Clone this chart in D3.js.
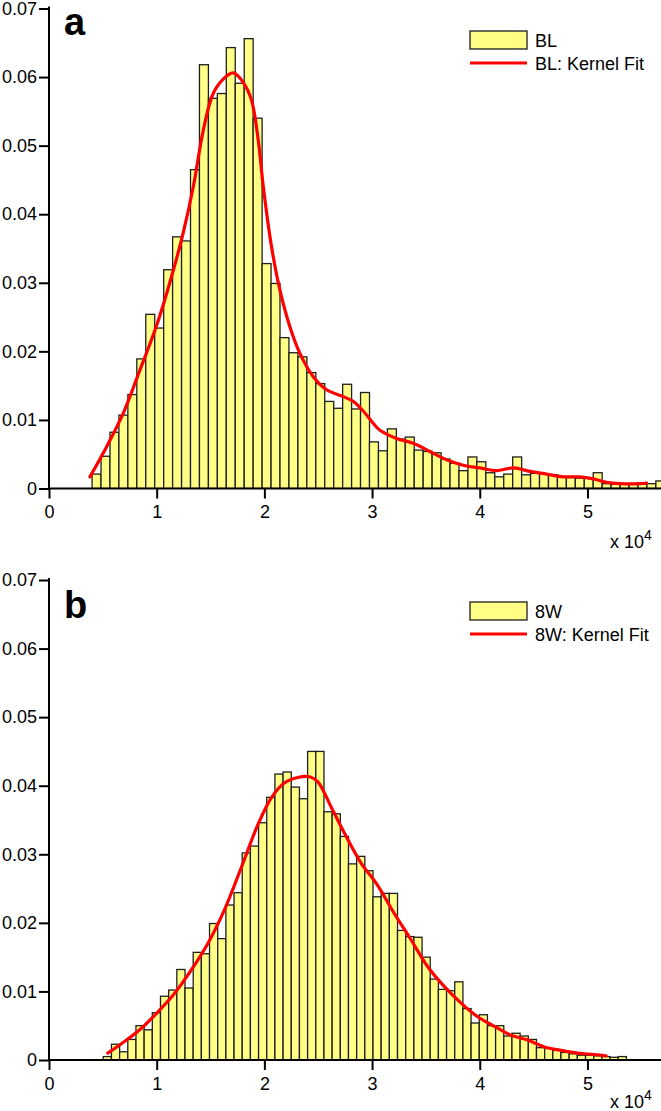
<!DOCTYPE html>
<html>
<head>
<meta charset="utf-8">
<script src="https://cdn.jsdelivr.net/npm/d3@7/dist/d3.min.js"></script>
<style>
  html, body { margin: 0; padding: 0; background: #fff; }
  svg { display: block; font-family: "Liberation Sans", Arial, sans-serif; }
</style>
</head>
<body>
<svg id="chart" width="661" height="1111"></svg>
<script>
// ---------- data (x in units of 10^4) ----------
const xTicks = [0, 1, 2, 3, 4, 5];
const yTicks = [0, 0.01, 0.02, 0.03, 0.04, 0.05, 0.06, 0.07];
const yTickLabels = ["0", "0.01", "0.02", "0.03", "0.04", "0.05", "0.06", "0.07"];

// Panel a: BL
const blBinStart = 0.40;
const blBinWidth = 0.0831;
const blValues = [0.0021, 0.0047, 0.0082, 0.0107, 0.0137, 0.0189, 0.0254, 0.0234, 0.0319, 0.0367,
  0.0361, 0.0465, 0.0618, 0.0569, 0.0576, 0.0643, 0.0591, 0.0656, 0.0540, 0.0328,
  0.0299, 0.0220, 0.0198, 0.0192, 0.0169, 0.0153, 0.0127, 0.0117, 0.0152, 0.0116,
  0.0140, 0.0068, 0.0055, 0.0087, 0.0072, 0.0075, 0.0056, 0.0054, 0.0052, 0.0043,
  0.0037, 0.0026, 0.0046, 0.0039, 0.0023, 0.0017, 0.0021, 0.0046, 0.0020, 0.0022,
  0.0021, 0.0020, 0.0017, 0.0016, 0.0015, 0.0015, 0.0023, 0.0007, 0.0006, 0.0006,
  0.0006, 0.0006, 0.0007, 0.0011];
const blKernelX = [0.38, 0.535, 0.69, 0.845, 1.0, 1.154, 1.245, 1.34, 1.432, 1.525, 1.618, 1.711,
  1.805, 1.881, 1.943, 1.99, 2.067, 2.145, 2.237, 2.33, 2.454, 2.578, 2.732, 2.825, 2.918,
  3.011, 3.073, 3.228, 3.382, 3.537, 3.692, 3.846, 4.001, 4.157, 4.311, 4.465, 4.621,
  4.775, 4.93, 5.055, 5.175, 5.301, 5.485, 5.549];
const blKernelY = [0.0017, 0.0061, 0.0110, 0.0173, 0.0238, 0.0318, 0.0372, 0.0440, 0.0522, 0.0576,
  0.0597, 0.0606, 0.0592, 0.0566, 0.0508, 0.0440, 0.0352, 0.0289, 0.0236, 0.0197, 0.0163,
  0.0144, 0.0134, 0.0127, 0.0113, 0.0095, 0.0085, 0.0073, 0.0066, 0.0054, 0.0042, 0.0034,
  0.0030, 0.0026, 0.0030, 0.0025, 0.0021, 0.0017, 0.0017, 0.0014, 0.0009, 0.0007, 0.0007, 0.0008];

// Panel b: 8W
const w8BinStart = 0.504;
const w8BinWidth = 0.0759;
const w8Values = [0.0005, 0.0023, 0.0012, 0.0030, 0.0050, 0.0044, 0.0069, 0.0093, 0.0102, 0.0132,
  0.0105, 0.0157, 0.0155, 0.0199, 0.0177, 0.0226, 0.0244, 0.0302, 0.0312, 0.0346,
  0.0383, 0.0417, 0.0420, 0.0398, 0.0381, 0.0450, 0.0450, 0.0362, 0.0359, 0.0326,
  0.0286, 0.0297, 0.0276, 0.0238, 0.0243, 0.0243, 0.0189, 0.0180, 0.0179, 0.0150,
  0.0118, 0.0103, 0.0101, 0.0114, 0.0075, 0.0054, 0.0066, 0.0050, 0.0050, 0.0035,
  0.0039, 0.0035, 0.0030, 0.0018, 0.0017, 0.0014, 0.0011, 0.0009, 0.0007, 0.0007,
  0.0006, 0.0005, 0.0004, 0.0005];
const w8KernelX = [0.546, 0.701, 0.856, 1.01, 1.165, 1.32, 1.475, 1.629, 1.784, 1.939, 2.063, 2.185,
  2.31, 2.418, 2.495, 2.62, 2.743, 2.895, 3.05, 3.205, 3.363, 3.517, 3.672, 3.827, 3.981,
  4.136, 4.291, 4.445, 4.6, 4.755, 4.91, 5.065, 5.173];
const w8KernelY = [0.0010, 0.0027, 0.0046, 0.0070, 0.0097, 0.0131, 0.0170, 0.0219, 0.0280, 0.0343,
  0.0382, 0.0404, 0.0412, 0.0413, 0.0406, 0.0369, 0.0331, 0.0288, 0.0255, 0.0214, 0.0175,
  0.0136, 0.0107, 0.0083, 0.0063, 0.0049, 0.0036, 0.0029, 0.0019, 0.0014, 0.0010, 0.0008, 0.0006];

// ---------- drawing ----------
const svg = d3.select("#chart");
const FONT = "18px";

const panels = [
  { letter: "a", name: "BL", values: blValues, start: blBinStart, width: blBinWidth,
    kx: blKernelX, ky: blKernelY, yTop: 8.5, yBottom: 488.5, letterY: 35,
    legendY: 31, expY: 548 },
  { letter: "b", name: "8W", values: w8Values, start: w8BinStart, width: w8BinWidth,
    kx: w8KernelX, ky: w8KernelY, yTop: 580, yBottom: 1060, letterY: 618,
    legendY: 602, expY: 1108 }
];

const xLeft = 49, xRight = 661;
const xMax = 5.683;

panels.forEach((p, pi) => {
  const x = d3.scaleLinear().domain([0, xMax]).range([xLeft, xRight]);
  const y = d3.scaleLinear().domain([0, 0.07]).range([p.yBottom, p.yTop]);
  const g = svg.append("g");

  const clipId = "clip" + pi;
  svg.append("clipPath").attr("id", clipId)
    .append("rect").attr("x", xLeft).attr("y", p.yTop - 5)
    .attr("width", xRight - xLeft).attr("height", p.yBottom - p.yTop + 5);

  const bins = p.values.map((v, i) => ({ x0: p.start + i * p.width, x1: p.start + (i + 1) * p.width, v }));

  g.append("g").attr("clip-path", `url(#${clipId})`)
    .selectAll("rect").data(bins).join("rect")
    .attr("x", d => x(d.x0))
    .attr("width", d => x(d.x1) - x(d.x0))
    .attr("y", d => y(d.v))
    .attr("height", d => y(0) - y(d.v))
    .attr("fill", "#ffff85")
    .attr("stroke", "#1e1e1e")
    .attr("stroke-width", 1.3);

  const line = d3.line().x(d => x(d[0])).y(d => y(d[1])).curve(d3.curveCatmullRom.alpha(0.5));
  g.append("path")
    .datum(p.kx.map((k, i) => [k, p.ky[i]]))
    .attr("d", line)
    .attr("fill", "none")
    .attr("stroke", "#ff0000")
    .attr("stroke-width", 3.2)
    .attr("stroke-linejoin", "round")
    .attr("stroke-linecap", "round");

  // axes
  const yAxis = d3.axisLeft(y).tickValues(yTicks)
    .tickFormat((d, i) => yTickLabels[i]).tickSize(10).tickPadding(2).tickSizeOuter(0);
  const ya = g.append("g").attr("transform", `translate(${xLeft},0)`).call(yAxis);
  ya.select(".domain").attr("stroke", "#000").attr("stroke-width", 2)
    .attr("d", `M0,${p.yTop - 2}V${p.yBottom}`);
  ya.selectAll(".tick line").attr("stroke", "#000").attr("stroke-width", 2);
  ya.selectAll(".tick text").attr("font-size", FONT).attr("fill", "#000")
    .attr("font-family", "Liberation Sans, Arial, sans-serif");

  const xAxis = d3.axisBottom(x).tickValues(xTicks).tickFormat(d3.format("d"))
    .tickSize(10).tickPadding(7).tickSizeOuter(0);
  const xa = g.append("g").attr("transform", `translate(0,${p.yBottom})`).call(xAxis);
  xa.select(".domain").attr("stroke", "#000").attr("stroke-width", 2)
    .attr("d", `M${xLeft - 1},0H${xRight}`);
  xa.selectAll(".tick line").attr("stroke", "#000").attr("stroke-width", 2);
  xa.selectAll(".tick text").attr("font-size", FONT).attr("fill", "#000")
    .attr("font-family", "Liberation Sans, Arial, sans-serif");

  // exponent label
  const ex = g.append("text").attr("x", 610).attr("y", p.expY)
    .attr("font-size", "18px").attr("fill", "#000");
  ex.append("tspan").text("x 10");
  ex.append("tspan").attr("font-size", "14px").attr("dy", -8).text("4");

  // panel letter
  g.append("text").attr("x", 64).attr("y", p.letterY)
    .attr("font-size", "38px").attr("font-weight", "bold").attr("fill", "#000")
    .text(p.letter);

  // legend
  const lg = g.append("g");
  lg.append("rect").attr("x", 470).attr("y", p.legendY).attr("width", 57).attr("height", 18)
    .attr("fill", "#ffff85").attr("stroke", "#1e1e1e").attr("stroke-width", 1.3);
  lg.append("text").attr("x", 535).attr("y", p.legendY + 16).attr("font-size", FONT)
    .attr("fill", "#000").text(p.name);
  lg.append("line").attr("x1", 470).attr("x2", 527)
    .attr("y1", p.legendY + 32).attr("y2", p.legendY + 32)
    .attr("stroke", "#ff0000").attr("stroke-width", 3.2);
  lg.append("text").attr("x", 535).attr("y", p.legendY + 39).attr("font-size", FONT)
    .attr("fill", "#000").text(p.name + ": Kernel Fit");
});
</script>
</body>
</html>
